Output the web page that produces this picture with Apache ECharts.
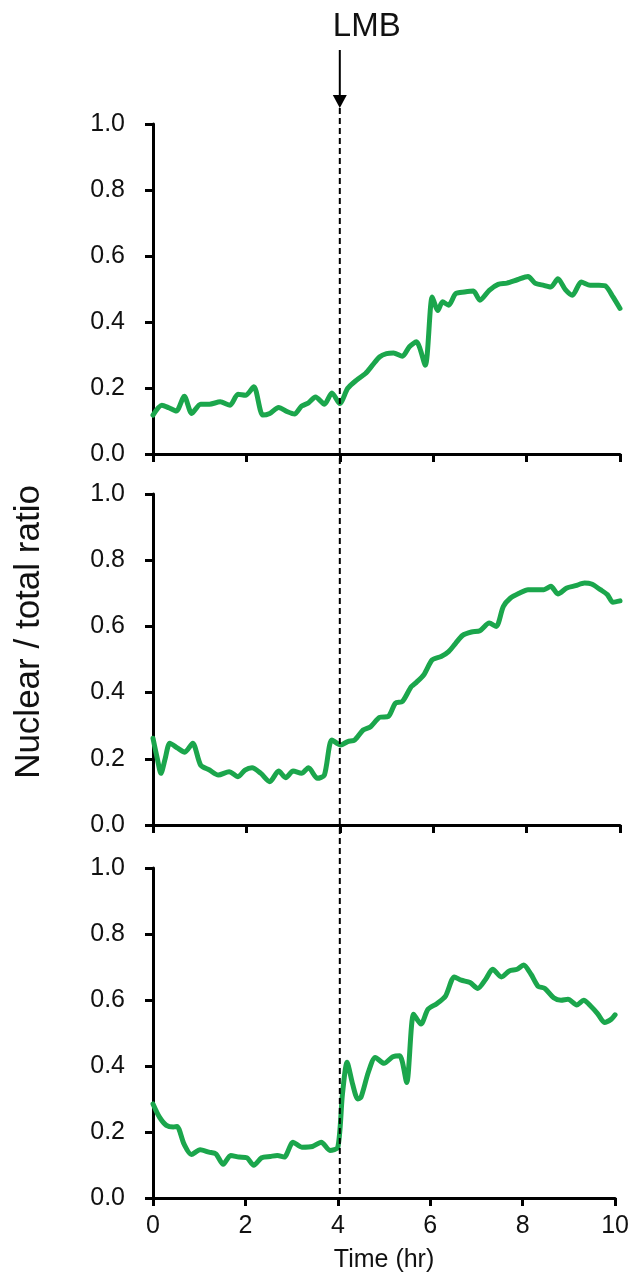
<!DOCTYPE html>
<html>
<head>
<meta charset="utf-8">
<script src="https://cdn.jsdelivr.net/npm/echarts@6/dist/echarts.min.js"></script>
<style>
html,body{margin:0;padding:0;background:#fff;}
#chart{width:632px;height:1281px;}
</style>
</head>
<body>
<div id="chart"></div>
<script>
// ---- data ----
var xTicks = [0, 2, 4, 6, 8, 10];
var yTicks = [0.0, 0.2, 0.4, 0.6, 0.8, 1.0];
var treatmentTime = 4;
var treatmentLabel = 'LMB';
var xTitle = 'Time (hr)';
var yTitle = 'Nuclear / total ratio';

var timeTop = [0,0.19,0.34,0.5,0.67,0.83,1.02,1.21,1.44,1.65,1.82,1.98,2.16,2.35,2.5,2.69,2.88,3.03,3.18,3.33,3.48,3.67,3.83,4.0,4.17,4.36,4.55,4.7,4.85,5.0,5.15,5.34,5.49,5.64,5.83,5.98,6.1,6.2,6.33,6.48,6.67,6.86,7.0,7.2,7.39,7.58,7.8,8.03,8.18,8.37,8.52,8.67,8.83,8.98,9.17,9.36,9.55,9.7,9.85,10];
var ratioTop = [0.118,0.148,0.14,0.13,0.175,0.123,0.151,0.151,0.158,0.148,0.181,0.178,0.204,0.118,0.123,0.141,0.128,0.121,0.145,0.155,0.173,0.151,0.185,0.153,0.199,0.224,0.244,0.269,0.294,0.304,0.306,0.296,0.325,0.34,0.269,0.476,0.435,0.461,0.451,0.486,0.491,0.494,0.466,0.496,0.514,0.518,0.528,0.538,0.518,0.511,0.506,0.531,0.498,0.481,0.521,0.511,0.511,0.508,0.476,0.441];

var timeMid = [0,0.09,0.17,0.26,0.36,0.53,0.68,0.85,1.02,1.21,1.4,1.63,1.82,1.97,2.12,2.31,2.5,2.69,2.84,3.0,3.18,3.33,3.52,3.67,3.83,4.02,4.17,4.32,4.5,4.66,4.85,5.04,5.19,5.34,5.53,5.64,5.8,5.98,6.17,6.33,6.48,6.63,6.82,7.0,7.2,7.35,7.5,7.65,7.84,8.03,8.22,8.37,8.52,8.67,8.86,9.05,9.24,9.39,9.58,9.73,9.85,10];
var ratioMid = [0.262,0.202,0.156,0.2,0.247,0.232,0.22,0.247,0.181,0.166,0.151,0.161,0.146,0.166,0.173,0.156,0.131,0.163,0.143,0.163,0.156,0.173,0.141,0.151,0.257,0.242,0.252,0.257,0.287,0.297,0.325,0.328,0.368,0.373,0.418,0.431,0.454,0.499,0.509,0.524,0.549,0.573,0.583,0.587,0.61,0.6,0.66,0.685,0.7,0.711,0.711,0.711,0.721,0.698,0.716,0.723,0.731,0.728,0.711,0.696,0.673,0.677];

var timeBot = [0,0.14,0.29,0.44,0.52,0.67,0.83,1.02,1.21,1.36,1.52,1.68,1.86,2.03,2.18,2.35,2.54,2.69,2.84,3.03,3.22,3.45,3.64,3.83,4.0,4.1,4.2,4.32,4.43,4.5,4.66,4.81,5.0,5.19,5.34,5.49,5.64,5.8,5.95,6.14,6.33,6.52,6.67,6.86,7.03,7.2,7.35,7.54,7.71,7.88,8.02,8.18,8.33,8.48,8.67,8.83,8.98,9.17,9.32,9.47,9.62,9.77,9.92,10];
var ratioBot = [0.285,0.245,0.22,0.215,0.217,0.164,0.132,0.146,0.139,0.134,0.102,0.129,0.124,0.122,0.099,0.122,0.126,0.129,0.124,0.169,0.154,0.156,0.169,0.144,0.154,0.315,0.411,0.345,0.3,0.305,0.381,0.426,0.408,0.428,0.431,0.35,0.557,0.527,0.572,0.589,0.612,0.67,0.66,0.653,0.635,0.663,0.693,0.67,0.688,0.693,0.706,0.678,0.642,0.635,0.607,0.599,0.602,0.585,0.599,0.582,0.559,0.532,0.542,0.555];

function pairs(t, v){ return t.map(function(x,i){ return [x, v[i]]; }); }

var GREEN = '#1ba64c';
var FONT = 'Liberation Sans, Arial, sans-serif';
var grids = [
  {left:153, right:12, top:124, height:330},
  {left:153, right:12, top:494, height:331},
  {left:153, right:12, top:868, height:330}
];

function xAxisFor(i){
  var last = i === 2;
  return {
    type:'value', gridIndex:i, min:xTicks[0], max:xTicks[xTicks.length-1], interval:2,
    axisLine:{show:true, onZero:false, lineStyle:{color:'#000', width:3}},
    axisTick:{show:true, inside:false, length:8, lineStyle:{color:'#000', width:3}},
    splitLine:{show:false},
    axisLabel:{show:last, fontSize:25, color:'#111', fontFamily:FONT, margin:16},
    name: last ? xTitle : '',
    nameLocation:'middle', nameGap:50,
    nameTextStyle:{fontSize:25, color:'#111', fontFamily:FONT}
  };
}
function yAxisFor(i){
  return {
    type:'value', gridIndex:i, min:yTicks[0], max:yTicks[yTicks.length-1], interval:0.2,
    axisLine:{show:true, lineStyle:{color:'#000', width:3}},
    axisTick:{show:true, inside:false, length:8, lineStyle:{color:'#000', width:3}},
    splitLine:{show:false},
    axisLabel:{fontSize:25, color:'#111', fontFamily:FONT, margin:28,
      formatter:function(v){ return v.toFixed(1); }}
  };
}
function seriesFor(i, t, v){
  return {
    type:'line', xAxisIndex:i, yAxisIndex:i, data:pairs(t, v),
    showSymbol:false, symbol:'none', smooth:0.25,
    lineStyle:{color:GREEN, width:5, cap:'round', join:'round'},
    z:3
  };
}

var chart = echarts.init(document.getElementById('chart'), null, {renderer:'canvas'});
chart.setOption({
  animation:false,
  backgroundColor:'#fff',
  grid:grids,
  xAxis:[xAxisFor(0), xAxisFor(1), xAxisFor(2)],
  yAxis:[yAxisFor(0), yAxisFor(1), yAxisFor(2)],
  series:[seriesFor(0,timeTop,ratioTop), seriesFor(1,timeMid,ratioMid), seriesFor(2,timeBot,ratioBot)]
});

// dashed treatment line and arrow, positioned through the axes
var pTop = chart.convertToPixel({gridIndex:0}, [treatmentTime, 1.0]);
var pBot = chart.convertToPixel({gridIndex:2}, [treatmentTime, 0.0]);
var x = pTop[0];
var tipY = pTop[1] - 16;
chart.setOption({
  graphic:[
    {type:'line', shape:{x1:x, y1:tipY, x2:x, y2:pBot[1]},
     style:{stroke:'#000', lineWidth:2, lineDash:[6,4]}, z:10},
    {type:'line', shape:{x1:x, y1:tipY - 58, x2:x, y2:tipY - 10},
     style:{stroke:'#000', lineWidth:2}, z:10},
    {type:'polygon', shape:{points:[[x-7, tipY-13],[x+7, tipY-13],[x, tipY]]},
     style:{fill:'#000'}, z:10},
    {type:'text', x:x + 27, y:tipY - 81,
     style:{text:treatmentLabel, fontSize:33, fontFamily:FONT, fill:'#111', align:'center', verticalAlign:'middle'}, z:10},
    {type:'text', x:29, y:632, rotation:Math.PI/2,
     style:{text:yTitle, fontSize:35, fontFamily:FONT, fill:'#111', align:'center', verticalAlign:'middle'}, z:10}
  ]
});
</script>
</body>
</html>
